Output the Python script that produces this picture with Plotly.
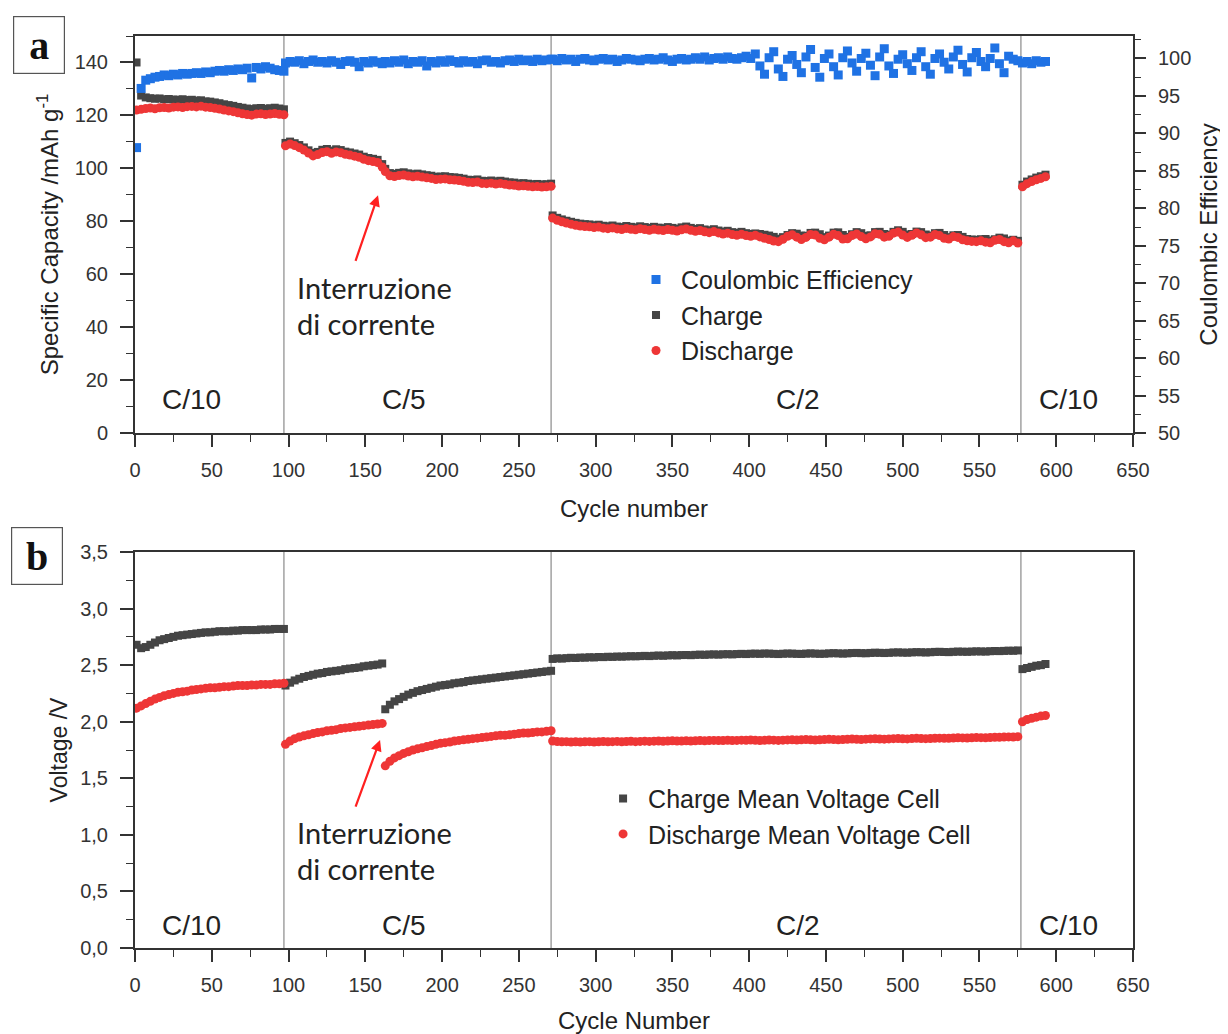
import plotly.graph_objects as go

# ---------------- data (one value every STEP cycles) ----------------
STEP = 3
START_C10A, START_C5A, START_C5B, START_C2, START_C10B = 1, 98, 163, 272, 578

# Coulombic efficiency (%)
ce_c10a = [88.1, 96.0, 97.1, 97.3, 97.5, 97.6, 97.8, 97.7, 97.9, 97.8, 98.0, 97.9, 98.0, 98.1, 98.0,
           98.2, 98.1, 98.3, 98.4, 98.3, 98.5, 98.4, 98.6, 98.5, 98.7, 97.4, 98.8, 98.6, 98.9, 98.7,
           98.5, 98.4, 98.3]
ce_c5a = [99.4, 99.6, 99.5, 99.7, 99.3, 99.6, 99.8, 99.5, 99.6, 99.4, 99.7, 99.5, 99.2, 99.6, 99.7,
          99.5, 98.9, 99.6, 99.4, 99.7, 99.5, 99.3]
ce_c5b = [99.6, 99.4, 99.7, 99.5, 99.8, 99.3, 99.6, 99.5, 99.7, 99.0, 99.6, 99.4, 99.7, 99.5, 99.8,
          99.6, 99.4, 99.7, 99.5, 99.6, 99.3, 99.7, 99.8, 99.5, 99.6, 99.4, 99.7, 99.8, 99.6, 99.9,
          99.7, 99.8, 99.6, 99.9, 99.7, 99.8, 99.9]
ce_c2 = [99.9, 99.7, 100.0, 99.8, 99.9, 99.6, 99.9, 100.0, 99.8, 99.7,
         99.9, 100.0, 99.8, 99.9, 99.6, 99.8, 100.0, 99.9, 99.8, 99.7,
         99.9, 100.0, 99.8, 99.9, 100.1, 99.8, 99.6, 99.9, 100.0, 99.8,
         99.9, 100.1, 99.9, 100.2, 99.8, 100.0, 100.1, 99.9, 100.2, 100.0,
         99.9, 100.1, 100.3,
         100.0, 100.6, 99.0, 97.9, 100.1, 100.9, 98.6, 97.6, 99.9, 100.4, 99.2, 98.1,
         100.2, 101.2, 98.8, 97.5, 100.0, 100.6, 98.9, 97.8, 100.1, 101.0, 99.4, 98.3,
         100.0, 100.7, 99.1, 97.7, 100.2, 101.3, 99.0, 98.0, 99.9, 100.5, 99.3, 98.4,
         100.1, 100.9, 98.9, 97.9, 100.0, 100.6, 99.5, 98.6, 100.2, 101.1, 99.2, 98.2,
         100.1, 100.8, 99.6, 98.9, 100.0, 101.4, 99.3, 98.1, 100.3, 99.9, 99.7]
ce_c10b = [99.4, 99.6, 99.3, 99.7, 99.5, 99.6]

# Charge specific capacity (mAh/g)
chg_c10a = [140.0, 127.5, 126.8, 126.5, 126.3, 126.4, 126.1, 126.2, 126.0, 125.9, 126.1, 125.8,
            125.9, 125.6, 125.7, 125.3, 125.2, 124.9, 124.6, 124.2, 123.9, 123.6, 123.2, 122.9,
            122.6, 122.4, 122.7, 122.8, 122.5, 122.7, 122.9, 122.6, 122.3]
chg_c5a = [109.6, 110.1, 109.5, 108.8, 107.9, 106.8, 105.8, 106.2, 107.0, 107.3, 106.7, 107.2,
           106.9, 106.3, 106.0, 105.6, 105.2, 104.4, 103.9, 103.6, 103.2, 101.6]
chg_c5b = [99.8, 98.2, 97.9, 98.3, 98.5, 98.1, 97.8, 98.0, 97.7, 97.4, 97.2, 96.8, 96.9, 97.0,
           96.7, 96.6, 96.4, 96.1, 95.7, 95.6, 95.8, 95.3, 95.2, 95.4, 95.1, 95.3, 95.0, 94.7,
           94.6, 94.3, 94.4, 94.2, 94.0, 94.1, 93.9, 94.0, 94.2]
chg_c2 = [82.2, 81.3, 80.7, 80.2, 79.8, 79.4, 79.1, 78.9, 78.8, 78.5, 78.7, 78.3, 78.1, 78.4,
          78.0, 77.8, 78.2, 77.9, 77.7, 78.1, 77.8, 77.5, 77.9, 77.6, 77.4, 77.8, 77.5, 77.2,
          77.7, 78.0, 77.5, 77.1, 77.4, 76.9, 76.6, 77.0, 76.5, 76.1, 76.4, 75.9, 75.6, 76.0,
          75.5, 75.2, 75.4, 75.2, 74.9, 74.6, 74.1, 73.4, 74.0, 74.8, 75.5, 75.3, 74.6, 74.5,
          75.6, 75.7, 75.1, 74.0, 74.6, 75.7, 75.8, 74.8, 74.1, 75.1, 75.9, 75.5, 74.5, 74.7,
          75.9, 76.0, 75.2, 74.9, 76.0, 76.6, 76.0, 75.0, 75.2, 76.1, 75.9, 75.0, 74.6, 75.5,
          75.6, 74.8, 74.0, 74.7, 74.8, 74.1, 73.3, 73.1, 73.0, 73.2, 73.3, 72.7, 73.2, 73.8,
          73.5, 72.7, 73.0, 72.6]
chg_c10b = [93.8, 95.0, 95.8, 96.5, 97.0, 97.6]

# Discharge specific capacity (mAh/g)
dis_c10a = [122.0, 122.3, 122.6, 122.8, 122.5, 122.9, 123.0, 122.8, 123.1, 123.2, 123.0, 123.3,
            123.4, 123.2, 123.5, 123.1, 123.0, 122.7, 122.4, 122.0, 121.7, 121.4, 121.0, 120.6,
            120.3, 120.1, 120.5, 120.6, 120.3, 120.5, 120.7, 120.4, 120.2]
dis_c5a = [108.5, 109.2, 108.6, 107.8, 106.9, 105.8, 104.7, 105.2, 106.0, 106.3, 105.7, 106.2,
           105.9, 105.3, 105.0, 104.6, 104.2, 103.4, 102.9, 102.6, 102.2, 100.5]
dis_c5b = [98.8, 97.2, 96.9, 97.3, 97.5, 97.1, 96.8, 97.0, 96.7, 96.4, 96.2, 95.8, 95.9, 96.0,
           95.7, 95.6, 95.4, 95.1, 94.7, 94.6, 94.8, 94.3, 94.2, 94.4, 94.1, 94.3, 94.0, 93.7,
           93.6, 93.3, 93.4, 93.2, 93.0, 93.1, 92.9, 93.0, 93.2]
dis_c2 = [81.2, 80.4, 79.8, 79.3, 78.9, 78.5, 78.2, 78.0, 77.9, 77.6, 77.8, 77.4, 77.2, 77.5,
          77.1, 76.9, 77.3, 77.0, 76.8, 77.2, 76.9, 76.6, 77.0, 76.7, 76.5, 76.9, 76.6, 76.3,
          76.8, 77.1, 76.6, 76.2, 76.5, 76.0, 75.7, 76.1, 75.6, 75.2, 75.5, 75.0, 74.7, 75.1,
          74.6, 74.3, 74.7, 74.1, 73.6, 73.1, 72.5, 72.3, 73.2, 74.3, 74.9, 74.0, 73.1, 73.9,
          75.0, 74.8, 73.6, 73.0, 74.0, 75.1, 74.6, 73.3, 73.4, 74.6, 75.2, 74.2, 73.4, 74.1,
          75.3, 75.1, 74.0, 74.3, 75.5, 75.9, 74.8, 73.9, 74.7, 75.6, 74.9, 73.8, 74.0, 75.0,
          74.6, 73.6, 73.3, 74.2, 73.9, 73.0, 72.6, 72.4, 72.3, 72.6, 72.1, 71.9, 72.8, 73.1,
          72.3, 71.9, 72.6, 71.8]
dis_c10b = [93.0, 94.2, 95.0, 95.7, 96.2, 96.8]

# Charge mean cell voltage (V)
vch_c10a = [2.68, 2.65, 2.66, 2.68, 2.70, 2.72, 2.73, 2.74, 2.75, 2.76, 2.765, 2.77, 2.775, 2.78,
            2.785, 2.79, 2.79, 2.795, 2.80, 2.80, 2.80, 2.805, 2.805, 2.81, 2.81, 2.81, 2.81,
            2.815, 2.815, 2.815, 2.82, 2.82, 2.82]
vch_c5a = [2.32, 2.345, 2.365, 2.38, 2.395, 2.405, 2.415, 2.425, 2.43, 2.44, 2.445, 2.45, 2.455,
           2.465, 2.47, 2.475, 2.48, 2.49, 2.495, 2.50, 2.505, 2.515]
vch_c5b = [2.11, 2.15, 2.18, 2.20, 2.22, 2.24, 2.255, 2.27, 2.28, 2.29, 2.30, 2.31, 2.32, 2.325,
           2.33, 2.34, 2.345, 2.35, 2.36, 2.365, 2.37, 2.375, 2.38, 2.385, 2.39, 2.395, 2.40,
           2.405, 2.41, 2.415, 2.42, 2.425, 2.43, 2.435, 2.44, 2.445, 2.45]
vch_c2 = [2.555, 2.56, 2.558, 2.562, 2.565, 2.563, 2.567, 2.566, 2.57, 2.568,
          2.572, 2.571, 2.574, 2.573, 2.576, 2.575, 2.577, 2.579, 2.578, 2.58,
          2.582, 2.58, 2.583, 2.585, 2.583, 2.586, 2.588, 2.586, 2.589, 2.59,
          2.588, 2.591, 2.593, 2.591, 2.594, 2.595, 2.593, 2.596, 2.597, 2.595,
          2.598, 2.6, 2.598, 2.601, 2.602, 2.6, 2.603, 2.602, 2.6, 2.598,
          2.601, 2.603, 2.602, 2.6, 2.599, 2.602, 2.604, 2.602, 2.6, 2.601,
          2.604, 2.606, 2.604, 2.602, 2.604, 2.607, 2.608, 2.606, 2.605, 2.608,
          2.61, 2.609, 2.607, 2.609, 2.612, 2.613, 2.611, 2.61, 2.613, 2.615,
          2.614, 2.612, 2.614, 2.617, 2.618, 2.616, 2.615, 2.618, 2.62, 2.619,
          2.618, 2.62, 2.622, 2.621, 2.62, 2.623, 2.625, 2.624, 2.626, 2.628,
          2.627, 2.63]
vch_c10b = [2.465, 2.475, 2.485, 2.495, 2.50, 2.51]

# Discharge mean cell voltage (V)
vdis_c10a = [2.12, 2.14, 2.16, 2.18, 2.20, 2.215, 2.23, 2.24, 2.25, 2.26, 2.265, 2.27, 2.28,
             2.285, 2.29, 2.295, 2.30, 2.30, 2.305, 2.31, 2.31, 2.315, 2.32, 2.32, 2.32, 2.325,
             2.325, 2.33, 2.33, 2.33, 2.335, 2.335, 2.34]
vdis_c5a = [1.80, 1.83, 1.85, 1.865, 1.875, 1.885, 1.895, 1.905, 1.91, 1.92, 1.925, 1.93, 1.94,
            1.945, 1.95, 1.955, 1.96, 1.965, 1.97, 1.975, 1.98, 1.985]
vdis_c5b = [1.61, 1.65, 1.68, 1.70, 1.72, 1.735, 1.75, 1.76, 1.77, 1.78, 1.79, 1.80, 1.81, 1.815,
            1.82, 1.83, 1.835, 1.84, 1.845, 1.85, 1.855, 1.86, 1.865, 1.87, 1.875, 1.88, 1.88,
            1.885, 1.89, 1.895, 1.90, 1.90, 1.905, 1.91, 1.91, 1.915, 1.92]
vdis_c2 = [1.83, 1.825, 1.822, 1.824, 1.821, 1.823, 1.82, 1.822, 1.824, 1.821,
           1.823, 1.825, 1.822, 1.824, 1.826, 1.823, 1.825, 1.827, 1.824, 1.826,
           1.828, 1.826, 1.828, 1.83, 1.827, 1.829, 1.831, 1.829, 1.83, 1.832,
           1.83, 1.832, 1.834, 1.831, 1.833, 1.835, 1.833, 1.834, 1.836, 1.834,
           1.835, 1.837, 1.836, 1.838, 1.836, 1.834, 1.836, 1.838, 1.837, 1.835,
           1.837, 1.839, 1.84, 1.838, 1.84, 1.842, 1.84, 1.838, 1.84, 1.842,
           1.844, 1.842, 1.84, 1.843, 1.845, 1.847, 1.845, 1.843, 1.846, 1.848,
           1.849, 1.847, 1.846, 1.848, 1.85, 1.851, 1.849, 1.848, 1.851, 1.853,
           1.852, 1.85, 1.852, 1.854, 1.855, 1.853, 1.854, 1.856, 1.858, 1.857,
           1.856, 1.858, 1.86, 1.859, 1.858, 1.861, 1.863, 1.862, 1.864, 1.866,
           1.865, 1.868]
vdis_c10b = [2.00, 2.02, 2.03, 2.04, 2.05, 2.055]

# C-rate regions
rate_change_cycles = [97, 271, 577]
rate_labels = ["C/10", "C/5", "C/2", "C/10"]
rate_label_cycles = [37, 175, 432, 608]

# ---------------- helpers ----------------
def join(*segments):
    xs, ys = [], []
    for start, vals in segments:
        xs += list(range(start, start + STEP * len(vals), STEP))
        ys += list(vals)
    return xs, ys

def series(c10a, c5a, c5b, c2, c10b):
    return join((START_C10A, c10a), (START_C5A, c5a), (START_C5B, c5b),
                (START_C2, c2), (START_C10B, c10b))

BLUE = "#1f72e4"
DARK = "#454545"
RED = "#ee3636"
AX = "#333333"
FONT = "Liberation Sans, Arial, sans-serif"

fig = go.Figure()

x, y = series(ce_c10a, ce_c5a, ce_c5b, ce_c2, ce_c10b)
fig.add_trace(go.Scatter(x=x, y=y, mode="markers", name="Coulombic Efficiency",
                         marker=dict(symbol="square", size=9, color=BLUE),
                         xaxis="x", yaxis="y2", legend="legend"))
x, y = series(chg_c10a, chg_c5a, chg_c5b, chg_c2, chg_c10b)
fig.add_trace(go.Scatter(x=x, y=y, mode="markers", name="Charge",
                         marker=dict(symbol="square", size=8, color=DARK),
                         xaxis="x", yaxis="y", legend="legend"))
x, y = series(dis_c10a, dis_c5a, dis_c5b, dis_c2, dis_c10b)
fig.add_trace(go.Scatter(x=x, y=y, mode="markers", name="Discharge",
                         marker=dict(symbol="circle", size=9, color=RED),
                         xaxis="x", yaxis="y", legend="legend"))

x, y = series(vch_c10a, vch_c5a, vch_c5b, vch_c2, vch_c10b)
fig.add_trace(go.Scatter(x=x, y=y, mode="markers", name="Charge Mean Voltage Cell",
                         marker=dict(symbol="square", size=8, color=DARK),
                         xaxis="x2", yaxis="y3", legend="legend2"))
x, y = series(vdis_c10a, vdis_c5a, vdis_c5b, vdis_c2, vdis_c10b)
fig.add_trace(go.Scatter(x=x, y=y, mode="markers", name="Discharge Mean Voltage Cell",
                         marker=dict(symbol="circle", size=9, color=RED),
                         xaxis="x2", yaxis="y3", legend="legend2"))

tickfont = dict(family=FONT, size=20, color=AX)

def xax(anchor, title):
    return dict(anchor=anchor, domain=[0, 1], range=[0, 650], tick0=0, dtick=50,
                ticks="outside", ticklen=12, tickwidth=1.5, tickcolor=AX,
                minor=dict(ticks="outside", ticklen=7, tickwidth=1.2, tickcolor=AX, dtick=25, tick0=0),
                showline=True, linecolor=AX, linewidth=2, mirror=True,
                showgrid=False, zeroline=False, automargin=False,
                tickfont=tickfont, ticklabelstandoff=6,
                title=dict(text=title, font=dict(family=FONT, size=24, color="#222"), standoff=20))

TOP_DOM = [0.5647, 1.0]
BOT_DOM = [0.0, 0.4342]

fig.update_layout(
    width=1220, height=1026, template="none",
    paper_bgcolor="white", plot_bgcolor="white",
    margin=dict(l=127, r=95, t=28, b=86),
    separators=",.",
    font=dict(family=FONT, color="#222"),
    xaxis=xax("y", "Cycle number"),
    xaxis2=xax("y3", "Cycle Number"),
    yaxis=dict(domain=TOP_DOM, anchor="x", range=[0, 150], tick0=0, dtick=20,
               ticks="outside", ticklen=13, tickwidth=1.5, tickcolor=AX,
               minor=dict(ticks="outside", ticklen=7, tickwidth=1.2, tickcolor=AX, dtick=10, tick0=0),
               showline=True, linecolor=AX, linewidth=2, showgrid=False, zeroline=False,
               automargin=False, tickfont=tickfont, ticklabelstandoff=8,
               title=dict(text="Specific Capacity /mAh g<sup>-1</sup>",
                          font=dict(family=FONT, size=24, color="#222"), standoff=9)),
    yaxis2=dict(overlaying="y", side="right", anchor="x", range=[50, 103], tick0=50, dtick=5,
                ticks="outside", ticklen=11, tickwidth=1.5, tickcolor=AX,
                minor=dict(ticks="outside", ticklen=6, tickwidth=1.2, tickcolor=AX, dtick=2.5, tick0=50),
                showline=True, linecolor=AX, linewidth=2, showgrid=False, zeroline=False,
                automargin=False, tickfont=tickfont, ticklabelstandoff=8,
                title=dict(text="Coulombic Efficiency",
                           font=dict(family=FONT, size=24, color="#222"), standoff=10)),
    yaxis3=dict(domain=BOT_DOM, anchor="x2", range=[0, 3.5], tick0=0, dtick=0.5, tickformat=".1f",
                ticks="outside", ticklen=13, tickwidth=1.5, tickcolor=AX,
                minor=dict(ticks="outside", ticklen=7, tickwidth=1.2, tickcolor=AX, dtick=0.25, tick0=0),
                showline=True, linecolor=AX, linewidth=2, mirror=True,
                showgrid=False, zeroline=False, automargin=False,
                tickfont=tickfont, ticklabelstandoff=8,
                title=dict(text="Voltage /V", font=dict(family=FONT, size=23, color="#222"), standoff=6)),
    legend=dict(x=0.497, y=0.758, xanchor="left", yanchor="top", bgcolor="rgba(0,0,0,0)",
                font=dict(family=FONT, size=25, color="#222"), tracegroupgap=0, itemwidth=40),
    legend2=dict(x=0.464, y=0.189, xanchor="left", yanchor="top", bgcolor="rgba(0,0,0,0)",
                 font=dict(family=FONT, size=25, color="#222"), tracegroupgap=0, itemwidth=40),
)

# vertical separators between C-rate regions
for c in rate_change_cycles:
    fig.add_shape(type="line", xref="x", yref="y domain", x0=c, x1=c, y0=0, y1=1,
                  line=dict(color="#8a8a8a", width=1.2), layer="below")
    fig.add_shape(type="line", xref="x2", yref="y3 domain", x0=c, x1=c, y0=0, y1=1,
                  line=dict(color="#8a8a8a", width=1.2), layer="below")

# C-rate labels
for lab, c in zip(rate_labels, rate_label_cycles):
    fig.add_annotation(x=c, y=12.5, xref="x", yref="y", text=lab, showarrow=False,
                       font=dict(family=FONT, size=28, color="#222"))
    fig.add_annotation(x=c, y=0.2, xref="x2", yref="y3", text=lab, showarrow=False,
                       font=dict(family=FONT, size=28, color="#222"))

# "Interruzione di corrente" notes and arrows
NOTE_FONT = dict(family="Lato, Open Sans, sans-serif", size=29, color="#222")
fig.add_annotation(x=104, y=55.1, xref="x", yref="y", text="Interruzione", showarrow=False,
                   xanchor="left", font=NOTE_FONT)
fig.add_annotation(x=104, y=41.5, xref="x", yref="y", text="di corrente", showarrow=False,
                   xanchor="left", font=NOTE_FONT)
fig.add_annotation(x=158.3, y=89.8, xref="x", yref="y", text="", showarrow=True,
                   ax=-23, ay=67, arrowhead=2, arrowsize=1, arrowwidth=2.2, arrowcolor="#ff2020")
fig.add_annotation(x=104, y=1.025, xref="x2", yref="y3", text="Interruzione", showarrow=False,
                   xanchor="left", font=NOTE_FONT)
fig.add_annotation(x=104, y=0.707, xref="x2", yref="y3", text="di corrente", showarrow=False,
                   xanchor="left", font=NOTE_FONT)
fig.add_annotation(x=159.6, y=1.838, xref="x2", yref="y3", text="", showarrow=True,
                   ax=-25, ay=68, arrowhead=2, arrowsize=1, arrowwidth=2.2, arrowcolor="#ff2020")

# panel letters
PANEL_FONT = dict(family="Liberation Serif, Times New Roman, serif", size=40, color="#111")
fig.add_annotation(x=-0.0962, y=0.990, xref="paper", yref="paper", text="<b>a</b>", showarrow=False,
                   xanchor="center", yanchor="middle",
                   width=50, height=56, bordercolor="#555", borderwidth=1.2, borderpad=0,
                   bgcolor="white", font=PANEL_FONT)
fig.add_annotation(x=-0.0982, y=0.430, xref="paper", yref="paper", text="<b>b</b>", showarrow=False,
                   xanchor="center", yanchor="middle",
                   width=50, height=56, bordercolor="#555", borderwidth=1.2, borderpad=0,
                   bgcolor="white", font=PANEL_FONT)

fig.write_html("out.html")
